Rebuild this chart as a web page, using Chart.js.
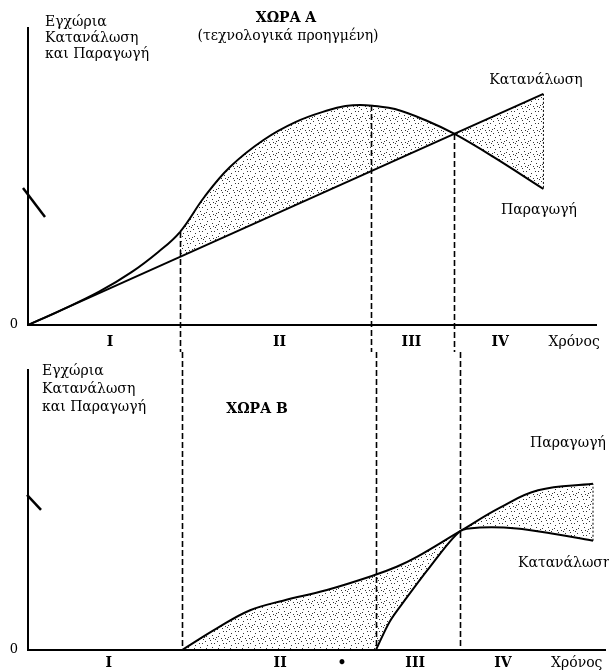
<!DOCTYPE html>
<html><head><meta charset="utf-8">
<script src="https://cdn.jsdelivr.net/npm/chart.js@4.4.1/dist/chart.umd.min.js"></script>
<style>
html,body{margin:0;padding:0;background:#fff;}
#wrap{position:relative;width:609px;height:670px;overflow:hidden;background:#fff;}
canvas{position:absolute;left:0;}
.t{position:absolute;font-family:"DejaVu Serif",serif;font-size:14px;color:#000;white-space:nowrap;line-height:16px;}
.c{transform:translate(-50%,-50%);}
.m{transform:translate(0,-50%);}
</style></head><body>
<div id="wrap">
<canvas id="cA" width="609" height="352" style="top:0"></canvas>
<canvas id="cB" width="609" height="318" style="top:352px"></canvas>
<div class="t" style="left:45px;top:13px">Εγχώρια<br>Κατανάλωση<br>και Παραγωγή</div>
<div class="t c" style="left:286px;top:17px;font-weight:bold">ΧΩΡΑ Α</div>
<div class="t c" style="left:288px;top:35px">(τεχνολογικά προηγμένη)</div>
<div class="t c" style="left:536px;top:79px">Κατανάλωση</div>
<div class="t c" style="left:539px;top:209px">Παραγωγή</div>
<div class="t" style="left:42px;top:361px;line-height:18px">Εγχώρια<br>Κατανάλωση<br>και Παραγωγή</div>
<div class="t c" style="left:257px;top:408px;font-weight:bold">ΧΩΡΑ Β</div>
<div class="t m" style="left:530px;top:442px">Παραγωγή</div>
<div class="t m" style="left:518px;top:562px">Κατανάλωση</div>
</div>
<script>
// ---- data (time on a 0–100 scale, quantities on a 0–100 scale per panel) ----
const phaseBounds = [26.7, 60.3, 74.9];

const timeA     = [0, 5.5, 12.5, 18.2, 22.9, 26.7, 31.0, 35.5, 41.4, 47.1, 52.9, 55.8, 58.4, 61.0, 64.5, 70.2, 74.9, 81.8, 90.6];
const prodA     = [0, 4.7, 11.2, 17.8, 24.6, 31.3, 43.1, 53.2, 62.3, 68.4, 72.4, 73.7, 74.1, 73.7, 72.7, 68.7, 64.4, 56.6, 45.8];
const timeConsA = [0, 90.6];
const consA     = [0, 77.8];
const dashTopA  = [31.3, 74.1, 64.3];
const labelPosA = [14.4, 44.2, 67.4, 83.0, 96.0];
const labelsA   = ['I', 'II', 'III', 'IV', 'Χρόνος'];
const breakA    = 41.4;

const timeB     = [26.7, 32.8, 38.5, 44.2, 51.8, 59.6, 64.0, 67.4, 74.9, 81.8, 88.4, 97.92];
const prodB     = [0, 7.8, 14.2, 17.6, 21.4, 26.4, 29.8, 33.2, 42.4, 50.8, 57.0, 59.3];
const timeConsB = [60.3, 62.7, 65.6, 69.6, 74.9, 78.3, 84.7, 91.3, 97.92];
const consB     = [0, 10.2, 18.6, 29.5, 42.4, 43.7, 43.4, 41.4, 39.0];
const labelPosB = [14.0, 43.7, 54.4, 67.1, 82.3, 95.1];
const labelsB   = ['I', 'II', '•', 'III', 'IV', 'Χρόνος'];
const breakB    = 52.9;

// ---- helpers ----
const pts = (xs, ys) => xs.map((x, i) => ({x, y: ys[i]}));
function stipple() {
  const c = document.createElement('canvas'); c.width = 12; c.height = 12;
  const g = c.getContext('2d'); g.fillStyle = 'rgba(30,30,30,0.9)';
  [[1,1],[6,0],[10,3],[3,5],[8,7],[0,9],[5,10],[11,11],[7,3],[2,8],[9,10]].forEach(([x,y]) => g.fillRect(x, y, 1, 1));
  return g.createPattern(c, 'repeat');
}
const pattern = stipple();
const FONT = 'DejaVu Serif';

function baseOpts(cfg) {
  return {
    responsive: false, animation: false, devicePixelRatio: 1,
    layout: {padding: {left: 0, right: 4, top: cfg.padTop, bottom: 0}},
    plugins: {legend: {display: false}, tooltip: {enabled: false}},
    elements: {point: {radius: 0}, line: {borderColor: '#000', borderWidth: 2, tension: 0.4}},
    scales: {
      x: {
        type: 'linear', min: 0, max: 100,
        grid: {display: false, drawTicks: false},
        border: {display: true, color: '#000', width: 2, z: 1},
        ticks: {
          autoSkip: false, maxRotation: 0, padding: cfg.xPad, color: '#000', z: 1,
          font: ctx => ({family: FONT, size: 14, weight: ctx.index < cfg.labels.length - 1 ? 'bold' : 'normal'}),
          callback: (v, i) => cfg.labels[i]
        },
        afterBuildTicks: s => { s.ticks = cfg.labelPos.map(v => ({value: v})); },
        afterFit: s => { s.height = cfg.xH; }
      },
      y: {
        type: 'linear', min: 0, max: 100,
        grid: {display: false, drawTicks: false},
        border: {display: true, color: '#000', width: 2, z: 1},
        ticks: {padding: 10, color: '#000', z: 1, font: {family: FONT, size: 13}, callback: () => '0'},
        afterBuildTicks: s => { s.ticks = [{value: 0}]; },
        afterFit: s => { s.width = 28; }
      }
    }
  };
}

function deco(id, dashTop, brk, brkShape) {
  return {
    id,
    afterDatasetsDraw(chart) {
      const {ctx, scales: {x, y}} = chart;
      ctx.save();
      ctx.strokeStyle = '#000';
      ctx.lineWidth = 1.6; ctx.setLineDash([6, 3]);
      phaseBounds.forEach((b, i) => {
        const px = Math.round(x.getPixelForValue(b)) + 0.5;
        const top = dashTop ? y.getPixelForValue(dashTop[i]) : 0;
        const bot = dashTop ? chart.height : y.getPixelForValue(0);
        ctx.beginPath(); ctx.moveTo(px, top); ctx.lineTo(px, bot); ctx.stroke();
      });
      const m0 = chart.getDatasetMeta(0).data, m1 = chart.getDatasetMeta(1).data;
      const e0 = m0[m0.length - 1], e1 = m1[m1.length - 1];
      ctx.lineWidth = 1; ctx.setLineDash([2, 2]);
      ctx.beginPath(); ctx.moveTo(e0.x, e0.y); ctx.lineTo(e1.x, e1.y); ctx.stroke();
      ctx.setLineDash([]); ctx.lineWidth = 2.5;
      const by = y.getPixelForValue(brk), bx = x.left;
      ctx.beginPath(); ctx.moveTo(bx + brkShape[0], by + brkShape[1]); ctx.lineTo(bx + brkShape[2], by + brkShape[3]); ctx.stroke();
      ctx.restore();
    }
  };
}

// ---- Country A ----
new Chart(document.getElementById('cA'), {
  type: 'line',
  data: {datasets: [
    {label: 'Κατανάλωση', data: pts(timeConsA, consA), tension: 0, fill: false},
    {label: 'Παραγωγή', data: pts(timeA, prodA), fill: '-1', backgroundColor: pattern,
     segment: {backgroundColor: c => c.p0.parsed.x < phaseBounds[0] ? 'rgba(0,0,0,0)' : pattern}}
  ]},
  options: baseOpts({padTop: 28, xPad: 9, xH: 27, labels: labelsA, labelPos: labelPosA}),
  plugins: [deco('decoA', dashTopA, breakA, [-5, -14, 17, 15])]
});

// ---- Country B ----
new Chart(document.getElementById('cB'), {
  type: 'line',
  data: {datasets: [
    {label: 'Κατανάλωση', data: pts(timeConsB, consB), tension: 0.3, backgroundColor: '#fff', fill: 'origin'},
    {label: 'Παραγωγή', data: pts(timeB, prodB), backgroundColor: pattern, fill: 'origin'}
  ]},
  options: baseOpts({padTop: 3, xPad: 5, xH: 20, labels: labelsB, labelPos: labelPosB}),
  plugins: [deco('decoB', null, breakB, [-1, -7, 13, 8])]
});
</script>
</body></html>
